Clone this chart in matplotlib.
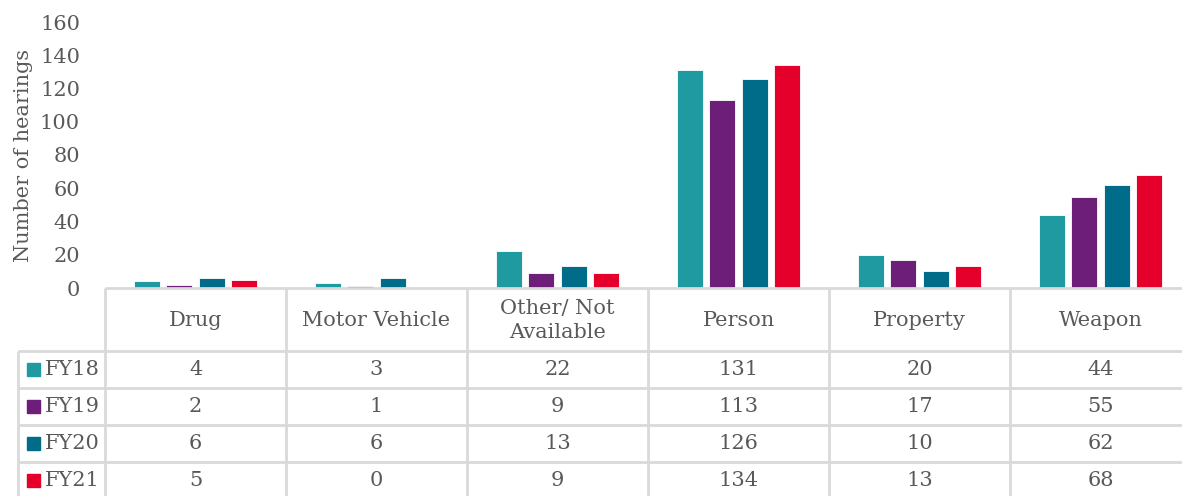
import matplotlib
matplotlib.use("Agg")
import matplotlib.pyplot as plt
from matplotlib.patches import Rectangle
import numpy as np

categories = ["Drug", "Motor Vehicle", "Other/ Not\nAvailable", "Person", "Property", "Weapon"]
series_names = ["FY18", "FY19", "FY20", "FY21"]
fy18 = [4, 3, 22, 131, 20, 44]
fy19 = [2, 1, 9, 113, 17, 55]
fy20 = [6, 6, 13, 126, 10, 62]
fy21 = [5, 0, 9, 134, 13, 68]
colors = ["#1E9AA0", "#6C1E78", "#006C8A", "#E4002B"]
yticks = [0, 20, 40, 60, 80, 100, 120, 140, 160]

W, H = 1182, 496
DPI = 100
FONT = "DejaVu Serif"
TXT = "#595959"
GRID = "#D9D9D9"
FS = 15

fig = plt.figure(figsize=(W / DPI, H / DPI), dpi=DPI)

# geometry in pixels
x0 = 105
colw = 181
ntot = len(categories)
x1 = x0 + colw * ntot
ytop, y0 = 22, 288

ax = fig.add_axes([x0 / W, 1 - y0 / H, (x1 - x0) / W, (y0 - ytop) / H])
series = [fy18, fy19, fy20, fy21]
xs = np.arange(ntot)
slot = 0.18
bw = 0.145
for i, (vals, c) in enumerate(zip(series, colors)):
    ax.bar(xs + (i - 1.5) * slot + 0.5, vals, width=bw, color=c,
           edgecolor="white", linewidth=0.6, zorder=3)
ax.set_xlim(0, ntot)
ax.set_ylim(0, 160)
ax.set_yticks(yticks)
ax.set_yticklabels([str(t) for t in yticks], fontfamily=FONT, fontsize=FS, color=TXT)
ax.tick_params(axis="y", length=0, pad=18)
ax.set_xticks([])
for s in ["top", "right", "left", "bottom"]:
    ax.spines[s].set_visible(False)
ax.set_ylabel("Number of hearings", fontfamily=FONT, fontsize=FS, color=TXT)
ax.yaxis.set_label_coords(-72 / (x1 - x0), 0.5)

# table overlay in pixel coords
tb = fig.add_axes([0, 0, 1, 1])
tb.set_xlim(0, W)
tb.set_ylim(H, 0)
tb.axis("off")

lw = 2.0
xl = 18
row_y = [351, 388, 425, 462, 499]
tb.plot([x0, x1], [y0, y0], color=GRID, lw=lw, solid_capstyle="butt")
for y in row_y:
    tb.plot([xl, x1], [y, y], color=GRID, lw=lw, solid_capstyle="butt")
for k in range(ntot + 1):
    x = x0 + colw * k
    tb.plot([x, x], [y0, H + 5], color=GRID, lw=lw, solid_capstyle="butt")
tb.plot([xl, xl], [row_y[0], H + 5], color=GRID, lw=lw, solid_capstyle="butt")

for k, cat in enumerate(categories):
    tb.text(x0 + colw * (k + 0.5), (y0 + row_y[0]) / 2 + 1, cat, ha="center", va="center",
            fontfamily=FONT, fontsize=FS, color=TXT, linespacing=1.4)

for r, (name, vals, c) in enumerate(zip(series_names, series, colors)):
    yc = (row_y[r] + row_y[r + 1]) / 2
    tb.add_patch(Rectangle((27, yc - 6.5), 13, 13, color=c))
    tb.text(45, yc, name, ha="left", va="center", fontfamily=FONT, fontsize=FS, color=TXT)
    for k, v in enumerate(vals):
        tb.text(x0 + colw * (k + 0.5), yc, str(v), ha="center", va="center",
                fontfamily=FONT, fontsize=FS, color=TXT)

fig.savefig("out.png", dpi=DPI)
